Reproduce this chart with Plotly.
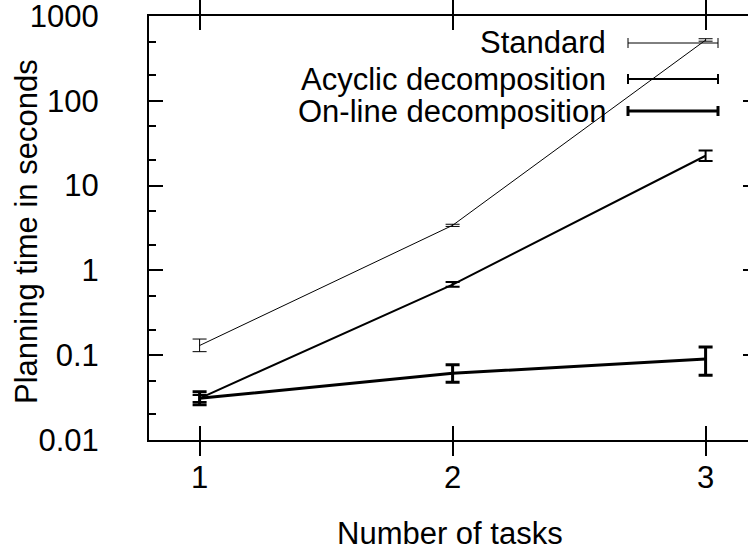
import plotly.graph_objects as go

# ---- data ----
tasks = [1, 2, 3]
series_names = ["Standard", "Acyclic decomposition", "On-line decomposition"]
standard = [0.13, 3.4, 520]
standard_lo = [0.11, 3.3, 505]
standard_hi = [0.155, 3.5, 540]
acyclic = [0.031, 0.68, 22.5]
acyclic_lo = [0.028, 0.64, 19.5]
acyclic_hi = [0.034, 0.73, 26]
online = [0.031, 0.061, 0.09]
online_lo = [0.026, 0.048, 0.058]
online_hi = [0.037, 0.077, 0.125]
y_ticks = [0.01, 0.1, 1, 10, 100, 1000]
y_ticktext = ["0.01", "0.1", "1", "10", "100", "1000"]
y_minor = [m * 10 ** e for e in range(-2, 3) for m in (2, 5)]

FONT = "Liberation Sans, Arial, sans-serif"
FS = 31

series = [
    (standard, standard_lo, standard_hi, 1),
    (acyclic, acyclic_lo, acyclic_hi, 2),
    (online, online_lo, online_hi, 3),
]

fig = go.Figure()
for name, (vals, lo, hi, w) in zip(series_names, series):
    fig.add_trace(go.Scatter(
        x=tasks, y=vals, mode="lines", name=name, showlegend=False,
        line=dict(color="black", width=w),
        error_y=dict(type="data", symmetric=False,
                     array=[h - v for h, v in zip(hi, vals)],
                     arrayminus=[v - l for l, v in zip(lo, vals)],
                     color="black", thickness=w, width=7),
    ))
# invisible trace to activate right-side ticks
fig.add_trace(go.Scatter(x=[tasks[0]], y=[online[0]], yaxis="y2", mode="markers",
                         marker=dict(opacity=0), showlegend=False, hoverinfo="skip"))

L, R, T, B = 149, 748, 16, 440
W, H = 748, 550
YR = [-2.0005, 3.0005]

def px(x):
    return (x - L) / (R - L)

def py(y):
    return (B - y) / (B - T)

# manual legend (gnuplot style)
leg_y = [43, 79, 111]
for name, (_, _, _, w), yy in zip(series_names, series, leg_y):
    fig.add_annotation(x=px(608), y=py(yy), xref="paper", yref="paper",
                       text=name, showarrow=False, xanchor="right", yanchor="middle",
                       font=dict(family=FONT, size=FS, color="black"))
    fig.add_shape(type="line", xref="paper", yref="paper",
                  x0=px(628), x1=px(718), y0=py(yy), y1=py(yy),
                  line=dict(color="black", width=w))
    for xc in (628, 718):
        fig.add_shape(type="line", xref="paper", yref="paper",
                      x0=px(xc), x1=px(xc), y0=py(yy - 5), y1=py(yy + 5),
                      line=dict(color="black", width=w))

fig.add_annotation(x=px(450), y=py(533), xref="paper", yref="paper",
                   text="Number of tasks", showarrow=False,
                   xanchor="center", yanchor="middle",
                   font=dict(family=FONT, size=FS, color="black"))
fig.add_annotation(x=px(26), y=py(232), xref="paper", yref="paper",
                   text="Planning time in seconds", showarrow=False, textangle=-90,
                   xanchor="center", yanchor="middle",
                   font=dict(family=FONT, size=FS, color="black"))

fig.update_layout(
    width=W, height=H,
    margin=dict(l=L, r=W - R, t=T, b=H - B),
    paper_bgcolor="white", plot_bgcolor="white",
    font=dict(family=FONT, size=FS, color="black"),
    xaxis=dict(range=[0.8, 0.8 + (R - L) / 253.0], tickvals=tasks,
               ticktext=[str(t) for t in tasks],
               showgrid=False, zeroline=False, showline=True, linecolor="black",
               linewidth=2, mirror="allticks", ticks="inside", ticklen=14,
               tickwidth=2, tickcolor="black", ticklabelstandoff=9,
               ticklabeloverflow="allow"),
    yaxis=dict(type="log", range=YR, tickvals=y_ticks, ticktext=y_ticktext,
               showgrid=False, zeroline=False, showline=True, linecolor="black",
               linewidth=2, ticks="inside", ticklen=14, tickwidth=2,
               tickcolor="black", ticklabelstandoff=42,
               ticklabeloverflow="allow",
               minor=dict(tickvals=y_minor, ticks="inside", ticklen=7,
                          tickwidth=2, tickcolor="black", showgrid=False)),
    yaxis2=dict(type="log", range=YR, overlaying="y", side="right",
                tickvals=y_ticks, showticklabels=False, showgrid=False,
                zeroline=False, showline=False, ticks="inside", ticklen=5,
                tickwidth=2, tickcolor="black"),
)

fig.write_html("out.html")
